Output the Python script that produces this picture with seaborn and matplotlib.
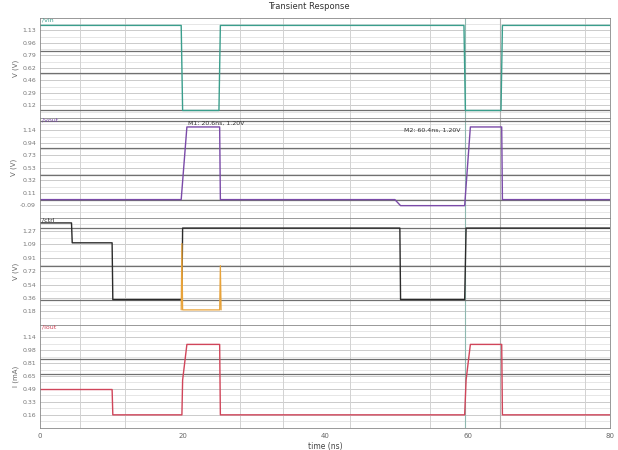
import matplotlib
matplotlib.use("Agg")
import matplotlib.pyplot as plt
import seaborn as sns
import pandas as pd
import numpy as np

# ---- data ----
t1 = [0, 19.8, 20.0, 25.1, 25.3, 59.5, 59.7, 64.7, 64.9, 80]
v1 = [1.2, 1.2, 0.05, 0.05, 1.2, 1.2, 0.05, 0.05, 1.2, 1.2]

t2 = [0, 19.8, 20.6, 25.2, 25.3, 49.8, 50.6, 59.6, 60.4, 64.8, 64.9, 80]
v2 = [0.0, 0.0, 1.2, 1.2, 0.0, 0.0, -0.1, -0.1, 1.2, 1.2, 0.0, 0.0]

t3 = [0, 4.4, 4.5, 10.1, 10.2, 19.9, 20.0, 50.5, 50.6, 59.6, 59.8, 70.9, 71.0, 80]
v3 = [1.38, 1.38, 1.11, 1.11, 0.34, 0.34, 1.31, 1.31, 0.34, 0.34, 1.31, 1.31, 1.31, 1.31]

t3b = [19.8, 19.9, 20.0, 25.2, 25.3, 25.4]
v3b = [0.2, 1.1, 0.2, 0.2, 0.8, 0.2]

t4 = [0, 10.1, 10.2, 19.9, 20.0, 20.6, 25.2, 25.3, 59.6, 59.8, 60.4, 64.8, 64.9, 80]
v4 = [0.48, 0.48, 0.16, 0.16, 0.6, 1.05, 1.05, 0.16, 0.16, 0.6, 1.05, 1.05, 0.16, 0.16]

signal_names = ["/vin", "/vout", "/ctrl", "/iout"]
ylabels = ["V (V)", "V (V)", "V (V)", "I (mA)"]
xticks = [0, 20, 40, 60, 80]
cursor_times = [5.6, 11.9, 28.1, 34.1, 43.5, 54.7, 59.6, 64.6, 76.5]
ref_levels = [[0.86, 0.55, 0.05], [1.3, 0.85, 0.4, 0.0], [1.31, 0.79, 0.34], [0.86, 0.67]]
marker1 = "M1: 20.6ns, 1.20V"
marker2 = "M2: 60.4ns, 1.20V"

sns.set_theme(style="white")
plt.rcParams['font.family'] = ['DejaVu Sans']

fig = plt.figure(figsize=(6.18, 4.5), dpi=100)
gs = fig.add_gridspec(4, 1, left=0.065, right=0.987, top=0.96, bottom=0.05,
                      hspace=0.0, height_ratios=[100, 100, 107, 103])
axes = [fig.add_subplot(gs[i]) for i in range(4)]
for ax in axes[1:]:
    ax.sharex(axes[0])

series = [
    (t1, v1, "#3a9e8c", (-0.05, 1.3)),
    (t2, v2, "#7a4aa8", (-0.3, 1.35)),
    (t3, v3, "#2b2b2b", (0.0, 1.45)),
    (t4, v4, "#d0455a", (0.0, 1.3)),
]

for i, (ax, (t, v, col, yl)) in enumerate(zip(axes, series)):
    df = pd.DataFrame({"t": t, "v": v})
    sns.lineplot(data=df, x="t", y="v", ax=ax, color=col, lw=1.0,
                 estimator=None, sort=False)
    ax.set_ylim(*yl)
    ax.set_xlim(0, 80)
    yt = np.linspace(yl[0], yl[1], 9)[1:-1]
    ax.set_yticks(yt)
    ax.set_yticklabels([f"{y:.2f}" for y in yt], fontsize=4.5, color="#777777")
    for y in np.linspace(yl[0], yl[1], 17)[1:-1]:
        ax.axhline(y, color="#e2e2e2", lw=0.6, zorder=0)
    for y in yt:
        ax.axhline(y, color="#cccccc", lw=0.7, zorder=0)
    for y in ref_levels[i]:
        ax.axhline(y, color="#707070", lw=0.9, zorder=0.5)
    for ct in cursor_times:
        ax.axvline(ct, color="#d2d2d2", lw=0.7, zorder=0)
    ax.axvline(59.6, color="#8fb8b0", lw=0.8, zorder=0)
    ax.axvline(64.6, color="#b0b0b0", lw=0.8, zorder=0)
    ax.set_ylabel(ylabels[i], fontsize=5, color="#666666", labelpad=2)
    ax.set_xlabel("")
    ax.text(0.003, 1.0, signal_names[i], transform=ax.transAxes, fontsize=4.5,
            color=col, va="top", ha="left")
    for s in ax.spines.values():
        s.set_color("#888888")
        s.set_linewidth(0.6)
    ax.tick_params(axis="y", length=2, pad=1)
    if i < 3:
        ax.tick_params(axis="x", labelbottom=False, length=0)

sns.lineplot(data=pd.DataFrame({"t": t3b, "v": v3b}), x="t", y="v", ax=axes[2],
             color="#e8a33a", lw=0.9, estimator=None, sort=False)
axes[2].set_ylabel(ylabels[2], fontsize=5, color="#666666", labelpad=2)
axes[2].set_xlabel("")

axes[1].text(20.8, 1.22, marker1, fontsize=4.5, color="#333333", va="bottom")
axes[1].text(59.0, 1.1, marker2, fontsize=4.5, color="#333333", va="bottom", ha="right")

axes[3].set_xticks(xticks)
axes[3].set_xticklabels([str(x) for x in xticks], fontsize=5, color="#666666")
axes[3].tick_params(axis="x", length=2, pad=2)
axes[3].set_xlabel("time (ns)", fontsize=5.5, color="#444444", labelpad=2)

fig.suptitle("Transient Response", fontsize=6, y=0.995, color="#333333")

fig.savefig("out.png", dpi=100)
